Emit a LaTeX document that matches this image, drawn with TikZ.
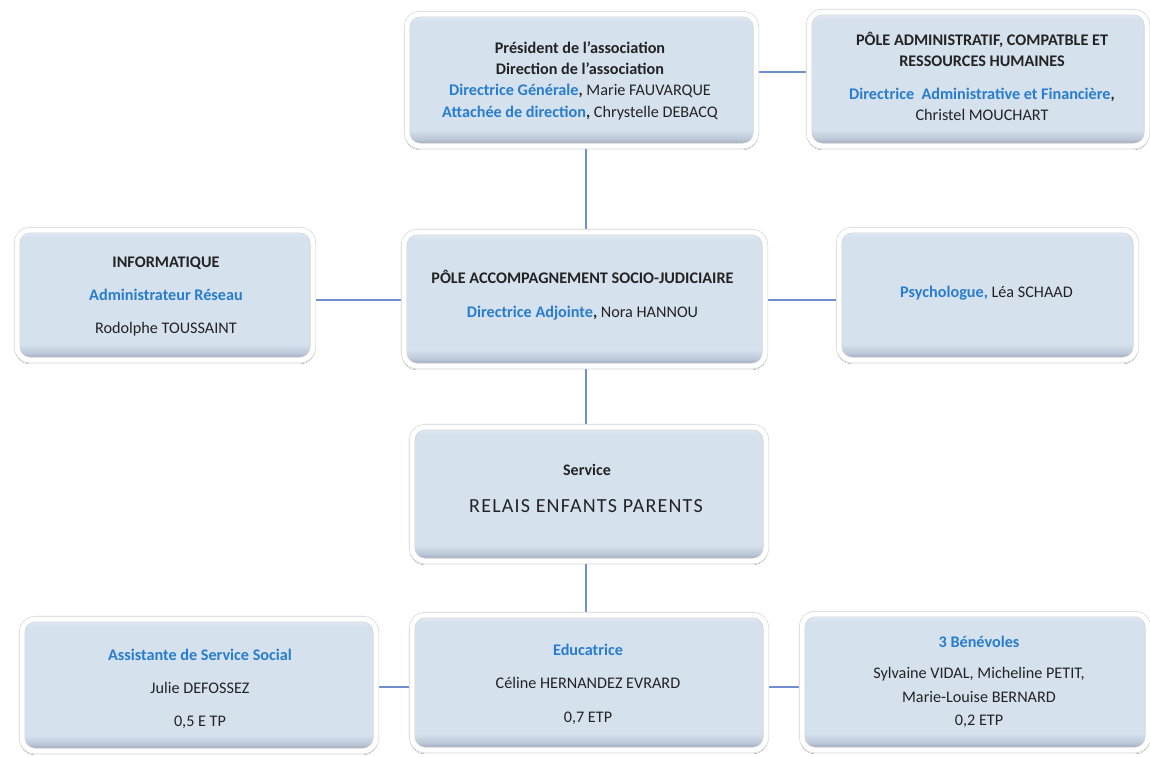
\documentclass[tikz,border=0pt]{standalone}
\usepackage{fontspec}
\setmainfont{Carlito}
\usetikzlibrary{shadows.blur,backgrounds}
\definecolor{blu}{RGB}{40,125,205}
\definecolor{ink}{RGB}{35,35,35}
\definecolor{lnk}{RGB}{112,142,206}
\definecolor{sdark}{RGB}{140,152,170}
\definecolor{smid}{RGB}{186,198,214}
\definecolor{sbase}{RGB}{214,225,238}
\definecolor{slight}{RGB}{228,236,246}
\pgfdeclareverticalshading{boxsh}{100bp}{color(0bp)=(sdark); color(25bp)=(sdark); color(27.5bp)=(smid); color(31bp)=(sbase); color(72bp)=(sbase); color(75bp)=(slight); color(100bp)=(slight)}
\newcommand{\myblue}[1]{{\color{blu}\bfseries #1}}
\tikzset{
  box/.style={rectangle, rounded corners=13pt, shading=boxsh, draw=black!18, double=white,
    double distance=5pt, line width=0.6pt, inner sep=0pt,
    blur shadow={shadow xshift=0pt, shadow yshift=-2pt, shadow blur steps=6, shadow opacity=35}},
  t/.style={anchor=base, inner sep=0pt, text=ink, font=\fontsize{16.2}{18}\selectfont},
  conn/.style={draw=lnk, line width=1.8pt}
}
\begin{document}
\begin{tikzpicture}[x=1pt,y=-1pt]
\useasboundingbox (0,0) rectangle (1150,756);
\coordinate (sp) at (586,0);
\coordinate (r1) at (0,72);
\coordinate (r2) at (0,300);
\coordinate (r3) at (0,687);
% boxes
\node[box, minimum width=349pt, minimum height=132pt] (b1) at (581.5,80) {};
\node[box, minimum width=338pt, minimum height=134pt] (b2) at (978,79) {};
\node[box, minimum width=296pt, minimum height=130pt] (b3) at (165,295) {};
\node[box, minimum width=361pt, minimum height=134pt] (b4) at (584.5,299) {};
\node[box, minimum width=297pt, minimum height=130pt] (b5) at (987.5,295) {};
\node[box, minimum width=354pt, minimum height=134pt] (b6) at (589,494) {};
\node[box, minimum width=354pt, minimum height=132pt] (b7) at (199,685) {};
\node[box, minimum width=354pt, minimum height=135pt] (b8) at (589,682.5) {};
\node[box, minimum width=346pt, minimum height=136pt] (b9) at (975,682) {};
% connectors
\begin{scope}[on background layer]
\fill[white] (0,0) rectangle (1150,756);
\draw[conn] (b1.south -| sp) -- (b4.north -| sp);
\draw[conn] (b1.east |- r1) -- (b2.west |- r1);
\draw[conn] (b3.east |- r2) -- (b4.west |- r2);
\draw[conn] (b4.east |- r2) -- (b5.west |- r2);
\draw[conn] (b4.south -| sp) -- (b6.north -| sp);
\draw[conn] (b6.south -| sp) -- (b8.north -| sp);
\draw[conn] (b7.east |- r3) -- (b8.west |- r3);
\draw[conn] (b8.east |- r3) -- (b9.west |- r3);
\end{scope}
% texts
\node[t] (t1a) at (580,53) {\bfseries Président de l’association};
\node[t] (t1b) at (580,74) {\bfseries Direction de l’association};
\node[t] (t1c) at (580,95.5) {\myblue{Directrice Générale}\textbf{,} Marie FAUVARQUE};
\node[t] (t1d) at (580,117) {\myblue{Attachée de direction}\textbf{,} Chrystelle DEBACQ};
\node[t] (t2a) at (982,45) {\bfseries PÔLE ADMINISTRATIF, COMPATBLE ET};
\node[t] (t2b) at (982,66) {\bfseries RESSOURCES HUMAINES};
\node[t] (t2c) at (982,99) {\myblue{Directrice\ \ Administrative et Financière}\textbf{,}};
\node[t] (t2d) at (982,120) {Christel MOUCHART};
\node[t] (t3a) at (166,267) {\bfseries INFORMATIQUE};
\node[t] (t3b) at (166,300) {\myblue{Administrateur Réseau}};
\node[t] (t3c) at (166,333) {Rodolphe TOUSSAINT};
\node[t] (t4a) at (582.5,283) {\bfseries PÔLE ACCOMPAGNEMENT SOCIO-JUDICIAIRE};
\node[t] (t4b) at (582.5,317) {\myblue{Directrice Adjointe}\textbf{,} Nora HANNOU};
\node[t] (t5a) at (986.5,297) {\myblue{Psychologue,} Léa SCHAAD};
\node[t, font=\fontsize{16}{18}\selectfont] (t6a) at (587,475) {\bfseries Service};
\node[t, font=\fontsize{20}{22}\selectfont\addfontfeature{LetterSpace=6}] (t6b) at (586,512) {RELAIS ENFANTS PARENTS};
\node[t] (t7a) at (200,660) {\myblue{Assistante de Service Social}};
\node[t] (t7b) at (200,693) {Julie DEFOSSEZ};
\node[t] (t7c) at (200,726) {0,5 E TP};
\node[t] (t8a) at (588,655) {\myblue{Educatrice}};
\node[t] (t8b) at (588,688) {Céline HERNANDEZ EVRARD};
\node[t] (t8c) at (588,722) {0,7 ETP};
\node[t] (t9a) at (979,647) {\myblue{3 Bénévoles}};
\node[t] (t9b) at (979,678) {Sylvaine VIDAL, Micheline PETIT,};
\node[t] (t9c) at (979,702) {Marie-Louise BERNARD};
\node[t] (t9d) at (979,725) {0,2 ETP};
\end{tikzpicture}
\end{document}
